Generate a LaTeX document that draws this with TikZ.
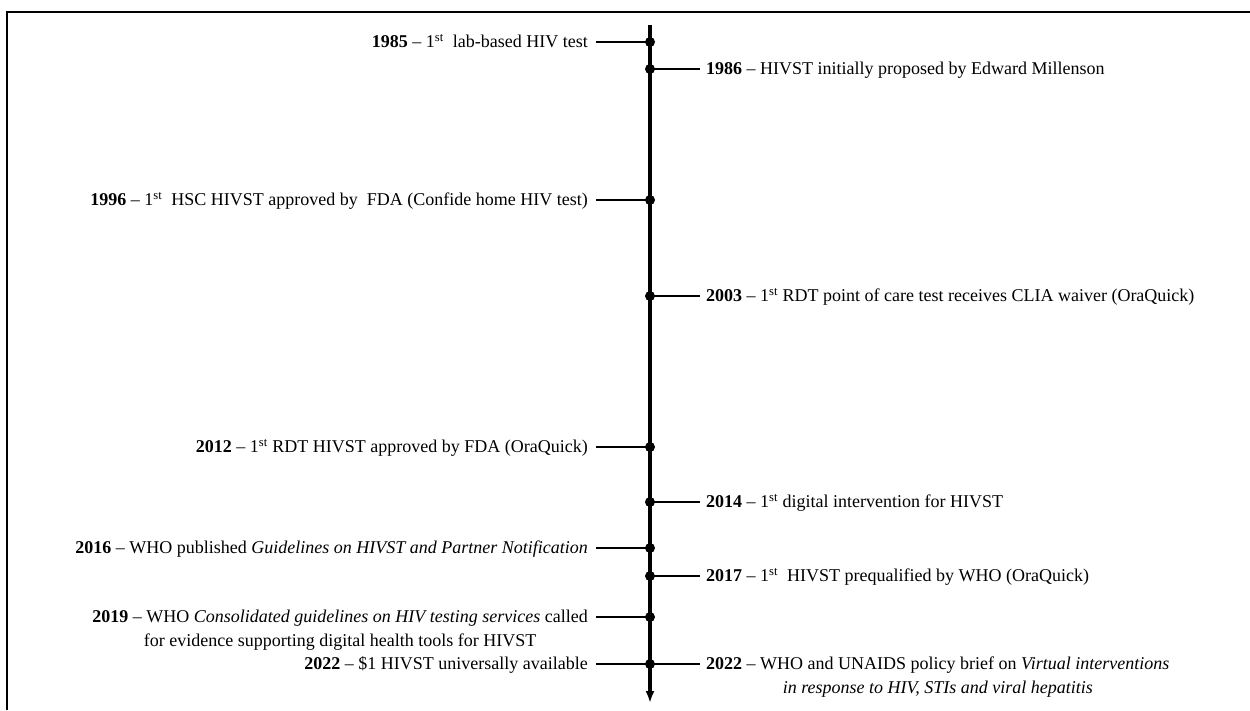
\documentclass[tikz,border=0pt]{standalone}
\usepackage{fontspec}
\setmainfont{Liberation Serif}
\usetikzlibrary{arrows.meta}
\begin{document}
\begin{tikzpicture}[x=1pt,y=-1pt,
  evt/.style={font=\fontsize{18}{24}\selectfont, inner ysep=0pt, align=center},
  lft/.style={evt, anchor=base east, inner xsep=8pt},
  rgt/.style={evt, anchor=base west, inner xsep=6pt},
  branch/.style={line width=2.2pt},
  dotmark/.style={circle, fill=black, inner sep=0pt, minimum size=10pt}]
\useasboundingbox (0,0) rectangle (1250,710);
% frame
\draw[line width=2pt] (7,710) -- (7,12) -- (1250,12);
% axis
\coordinate (top) at (650,25);
\coordinate (tip) at (650,703);
\draw[line width=3.4pt, -{Latex[length=12pt,width=9pt]}] (top) -- (tip);
% dots
\foreach \n/\y in {d85/42, d86/69, d96/200, d03/296, d12/447, d14/502, d16/548, d17/576, d19/617, d22/664}
  \node[dotmark] (\n) at (650,\y) {};
% left events
\node[lft] (t85) at (596,47.5) {\textbf{1985} -- 1\textsuperscript{st}~ lab-based HIV test};
\node[lft] (t96) at (596,205.5) {\textbf{1996} -- 1\textsuperscript{st}~ HSC HIVST approved by~ FDA (Confide home HIV test)};
\node[lft] (t12) at (596,452.5) {\textbf{2012} -- 1\textsuperscript{st} RDT HIVST approved by FDA (OraQuick)};
\node[lft] (t16) at (596,553.5) {\textbf{2016} -- WHO published \textit{Guidelines on HIVST and Partner Notification}};
\node[lft] (t19) at (596,646.5) {\textbf{2019} -- WHO \textit{Consolidated guidelines on HIV testing services} called\\for evidence supporting digital health tools for HIVST};
\node[lft] (t22l) at (596,669.5) {\textbf{2022} -- \$1 HIVST universally available};
% right events
\node[rgt] (t86) at (700,74.5) {\textbf{1986} -- HIVST initially proposed by Edward Millenson};
\node[rgt] (t03) at (700,301.5) {\textbf{2003} -- 1\textsuperscript{st} RDT point of care test receives CLIA waiver (OraQuick)};
\node[rgt] (t14) at (700,507.5) {\textbf{2014} -- 1\textsuperscript{st} digital intervention for HIVST};
\node[rgt] (t17) at (700,581.5) {\textbf{2017} -- 1\textsuperscript{st}~ HIVST prequalified by WHO (OraQuick)};
\node[rgt] (t22r) at (700,693.5) {\textbf{2022} -- WHO and UNAIDS policy brief on \textit{Virtual interventions}\\\textit{in response to HIV, STIs and viral hepatitis}};
% branches
\foreach \t/\d in {t85/d85, t96/d96, t12/d12, t16/d16, t19/d19, t22l/d22}
  \draw[branch] (\t.east |- \d) -- (\d.center);
\foreach \t/\d in {t86/d86, t03/d03, t14/d14, t17/d17, t22r/d22}
  \draw[branch] (\d.center) -- (\t.west |- \d);
\end{tikzpicture}
\end{document}
